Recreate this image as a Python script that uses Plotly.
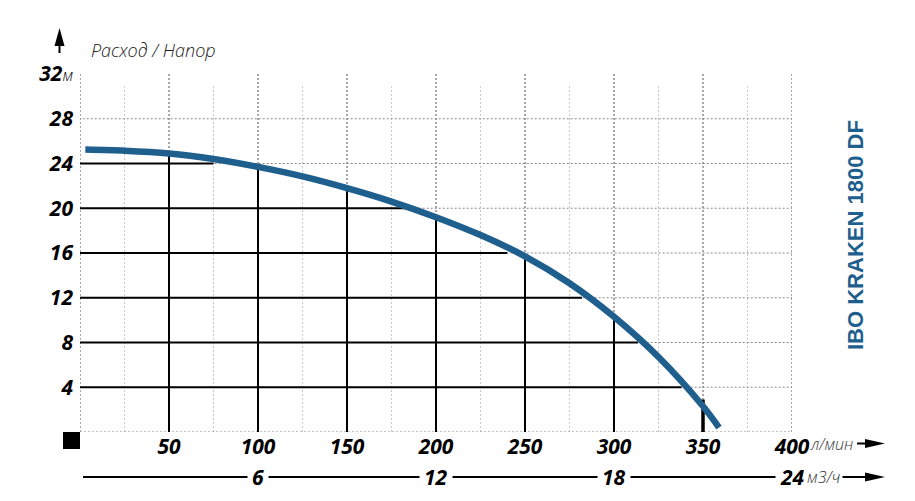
import numpy as np
import plotly.graph_objects as go

# ---------------- data ----------------
flow_lpm = [3, 25, 50, 75, 100, 125, 150, 175, 200, 225, 250, 275, 300, 325, 350, 359]
head_m = [25.25, 25.15, 24.9, 24.4, 23.7, 22.85, 21.8, 20.6, 19.2, 17.6, 15.7, 13.3, 10.3, 6.7, 2.3, 0.4]

x_tick_vals = [50, 100, 150, 200, 250, 300, 350, 400]
x_tick_text = ["50", "100", "150", "200", "250", "300", "350", "400"]
y_tick_vals = [4, 8, 12, 16, 20, 24, 28, 32]
y_tick_text = ["4", "8", "12", "16", "20", "24", "28", "32"]
m3h_vals = [6, 12, 18, 24]

major_grid_x = [0, 50, 100, 150, 200, 250, 300, 350, 400]
minor_grid_x = [25, 75, 125, 175, 225, 275, 325, 375]
grid_y = [4, 8, 12, 16, 20, 24, 28]

# solid reference lines
h_levels = [4, 8, 12, 16, 20, 24]
h_ends = [338, 313.5, 282, 240, 182.6, 75]
v_flows = [50, 100, 150, 200, 250, 300]
v350_top = 2.9

title_text = "IBO KRAKEN 1800 DF"
axis_caption = "Расход / Напор"
unit_x = "л/мин"
unit_x2 = "м3/ч"
unit_y = "м"

BLUE = "#1f5f8e"
FONT = "Open Sans"

# ---------------- helpers ----------------
L, R, T, B = 80, 792, 74, 432
W, H = 915, 501


def px(xp):
    return (xp - L) / (R - L)


def py(yp):
    return (B - yp) / (B - T)


def seg(xs, ys):
    out_x, out_y = [], []
    for (x0, x1), (y0, y1) in zip(xs, ys):
        out_x += [x0, x1, None]
        out_y += [y0, y1, None]
    return out_x, out_y


fig = go.Figure()

# minor dotted grid
gx, gy = seg([(x, x) for x in minor_grid_x], [(0, 30.9) for _ in minor_grid_x])
fig.add_trace(go.Scatter(x=gx, y=gy, mode="lines",
                         line=dict(color="#c8c8c8", width=1, dash="2px,2px"), hoverinfo="skip"))
# major vertical dotted grid
gx, gy = seg([(x, x) for x in major_grid_x], [(0, 32.1) for _ in major_grid_x])
fig.add_trace(go.Scatter(x=gx, y=gy, mode="lines",
                         line=dict(color="#8a8a8a", width=1.5, dash="2px,2px"), hoverinfo="skip"))
# horizontal dotted grid (incl. bottom)
gx, gy = seg([(-3, 400) for _ in grid_y] + [(0, 400)], [(y, y) for y in grid_y] + [(0, 0)])
fig.add_trace(go.Scatter(x=gx, y=gy, mode="lines",
                         line=dict(color="#8a8a8a", width=1.2, dash="2px,2px"), hoverinfo="skip"))

# solid black reference lines
hx, hy = seg([(0, e) for e in h_ends], [(v, v) for v in h_levels])
fig.add_trace(go.Scatter(x=hx, y=hy, mode="lines", line=dict(color="black", width=2), hoverinfo="skip"))
v_tops = np.interp(v_flows, flow_lpm, head_m)
vx, vy = seg([(x, x) for x in v_flows], [(0, t) for t in v_tops])
fig.add_trace(go.Scatter(x=vx, y=vy, mode="lines", line=dict(color="black", width=2), hoverinfo="skip"))
fig.add_trace(go.Scatter(x=[350, 350], y=[0, v350_top], mode="lines",
                         line=dict(color="black", width=3.5), hoverinfo="skip"))

# pump curve
fig.add_trace(go.Scatter(x=flow_lpm, y=head_m, mode="lines",
                         line=dict(color=BLUE, width=6.5, shape="spline", smoothing=0.8),
                         hoverinfo="skip"))

shapes = []
annotations = []

# black square at origin
shapes.append(dict(type="rect", xref="paper", yref="paper",
                   x0=px(63), x1=px(80), y0=py(432), y1=py(449),
                   fillcolor="black", line=dict(width=0)))

# up arrow
shapes.append(dict(type="line", xref="paper", yref="paper",
                   x0=px(59.5), x1=px(59.5), y0=py(53), y1=py(42),
                   line=dict(color="black", width=2)))
shapes.append(dict(type="path", xref="paper", yref="paper",
                   path="M {} {} L {} {} L {} {} Z".format(px(54.5), py(46), px(59.5), py(28), px(64.5), py(46)),
                   fillcolor="black", line=dict(width=0)))

# right arrows (l/min row and m3/h row)
for yrow in (443.5, 477):
    shapes.append(dict(type="path", xref="paper", yref="paper",
                       path="M {} {} L {} {} L {} {} Z".format(px(865), py(yrow - 4.5), px(885), py(yrow),
                                                             px(865), py(yrow + 4.5)),
                       fillcolor="black", line=dict(width=0)))
shapes.append(dict(type="line", xref="paper", yref="paper",
                   x0=px(857), x1=px(866), y0=py(443.5), y1=py(443.5), line=dict(color="black", width=2)))
# m3/h axis line
shapes.append(dict(type="line", xref="paper", yref="paper",
                   x0=px(83), x1=px(866), y0=py(477), y1=py(477), line=dict(color="black", width=2)))

# m3/h ticks + labels
for m in m3h_vals:
    xv = m * 1000 / 60
    shapes.append(dict(type="line", xref="x", yref="paper", x0=xv, x1=xv,
                       y0=py(459), y1=py(466), line=dict(color="black", width=2)))
    annotations.append(dict(x=xv, y=py(477), xref="x", yref="paper", showarrow=False,
                            text="<b><i>{}</i></b>".format(m), bgcolor="white", borderpad=4,
                            font=dict(family=FONT, size=21, color="black"),
                            xanchor="center", yanchor="middle"))

annotations.append(dict(x=px(804), y=py(477), xref="paper", yref="paper", showarrow=False,
                        text="<i>{}</i>".format(unit_x2), bgcolor="white", borderpad=2,
                        font=dict(family=FONT, size=16, color="#333", weight=300),
                        xanchor="left", yanchor="middle"))
annotations.append(dict(x=px(808), y=py(443.5), xref="paper", yref="paper", showarrow=False,
                        text="<i>{}</i>".format(unit_x),
                        font=dict(family=FONT, size=16, color="#333", weight=300),
                        xanchor="left", yanchor="middle"))

# caption
annotations.append(dict(x=px(89), y=py(50), xref="paper", yref="paper", showarrow=False,
                        text="<i>{}</i>".format(axis_caption),
                        font=dict(family=FONT, size=18, color="#222", weight=300),
                        xanchor="left", yanchor="middle"))

# vertical title
annotations.append(dict(x=px(855), y=py(235), xref="paper", yref="paper", showarrow=False,
                        text="<b>{}</b>".format(title_text), textangle=-90,
                        font=dict(family="Liberation Sans", size=22, color=BLUE),
                        xanchor="center", yanchor="middle"))

y_text = ["<b><i>{}</i></b>".format(t) for t in y_tick_text]
y_text[-1] = "<b><i>{}</i></b><i><span style='font-size:16px;font-weight:300'>{}</span></i>".format(y_tick_text[-1], unit_y)

fig.update_layout(
    width=W, height=H,
    margin=dict(l=L, r=W - R, t=T, b=H - B, pad=0),
    paper_bgcolor="white", plot_bgcolor="white",
    showlegend=False,
    xaxis=dict(range=[0, 400], showgrid=False, zeroline=False, showline=False,
               tickvals=x_tick_vals, ticktext=["<b><i>{}</i></b>".format(t) for t in x_tick_text],
               ticks="", ticklabelstandoff=0,
               tickfont=dict(family=FONT, size=21, color="black"), fixedrange=True),
    yaxis=dict(range=[0, 32], showgrid=False, zeroline=False, showline=False,
               tickvals=y_tick_vals, ticktext=y_text, ticklabelstandoff=6,
               ticks="", tickfont=dict(family=FONT, size=21, color="black"), fixedrange=True),
    shapes=shapes,
    annotations=annotations,
)

fig.write_html("out.html")
